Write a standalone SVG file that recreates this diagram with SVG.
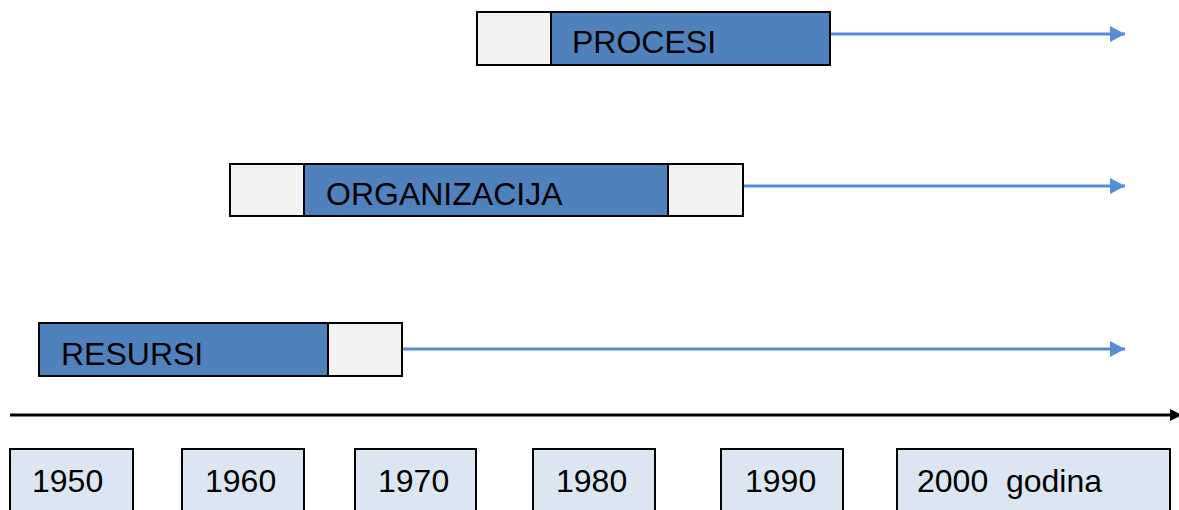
<svg xmlns="http://www.w3.org/2000/svg" width="1179" height="510" viewBox="0 0 1179 510">
<style>
.grey{fill:#F2F2F2;stroke:#000;stroke-width:2}
.blue{fill:#4F81BD;stroke:#000;stroke-width:2}
.year{fill:#DCE6F2;stroke:#000;stroke-width:2}
.t{font-family:"Liberation Sans",Arial,sans-serif;font-size:32px;fill:#000}
.conn{stroke:#558ED5;stroke-width:3;fill:none}
</style>
<defs>
<marker id="ah" markerWidth="5" markerHeight="5.3" refX="5" refY="2.65" orient="auto" markerUnits="strokeWidth">
<path d="M0,0 L5,2.65 L0,5.3 z" fill="#558ED5"/>
</marker>
<marker id="ak" markerWidth="4" markerHeight="4" refX="1" refY="2" orient="auto" markerUnits="strokeWidth">
<path d="M0,0 L4,2 L0,4 z" fill="#000"/>
</marker>
</defs>
<g id="connectors">
<line class="conn" x1="831" y1="34" x2="1125" y2="34" marker-end="url(#ah)"/>
<line class="conn" x1="744" y1="186" x2="1125" y2="186" marker-end="url(#ah)"/>
<line class="conn" x1="403" y1="349" x2="1125" y2="349" marker-end="url(#ah)"/>
<line x1="10" y1="415" x2="1173" y2="415" stroke="#000" stroke-width="3" marker-end="url(#ak)"/>
</g>
<g id="procesi">
<rect class="grey" x="477" y="12" width="74" height="53"/>
<rect class="blue" x="551" y="12" width="279" height="53"/>
<text class="t" x="572" y="53">PROCESI</text>
</g>
<g id="organizacija">
<rect class="grey" x="230" y="164" width="74" height="52"/>
<rect class="blue" x="304" y="164" width="364" height="52"/>
<rect class="grey" x="668" y="164" width="75" height="52"/>
<text class="t" x="326" y="205">ORGANIZACIJA</text>
</g>
<g id="resursi">
<rect class="blue" x="39" y="323" width="289" height="53"/>
<rect class="grey" x="328" y="323" width="74" height="53"/>
<text class="t" x="61" y="365">RESURSI</text>
</g>
<g id="y1950"><rect class="year" x="10" y="449" width="123" height="70"/><text class="t" x="32" y="492">1950</text></g>
<g id="y1960"><rect class="year" x="182" y="449" width="122" height="70"/><text class="t" x="205" y="492">1960</text></g>
<g id="y1970"><rect class="year" x="355" y="449" width="121" height="70"/><text class="t" x="378" y="492">1970</text></g>
<g id="y1980"><rect class="year" x="533" y="449" width="122" height="70"/><text class="t" x="556" y="492">1980</text></g>
<g id="y1990"><rect class="year" x="721" y="449" width="122" height="70"/><text class="t" x="745" y="492">1990</text></g>
<g id="y2000"><rect class="year" x="897" y="449" width="273" height="70"/><text class="t" x="917" y="492" xml:space="preserve">2000  godina</text></g>
</svg>
